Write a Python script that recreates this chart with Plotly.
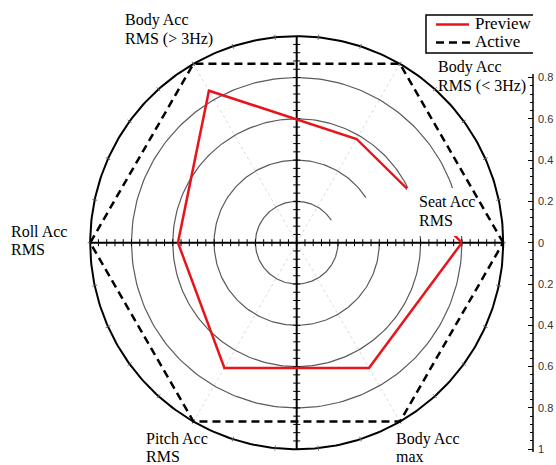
import numpy as np
import plotly.graph_objects as go

# figure geometry (pixels) of the reference
W, H = 556, 465
CX, CY, R_PX = 296.7, 242.7, 206.5
AXIS_PX = 533


def px_x(px):
    return (px - CX) / R_PX


def px_y(py):
    return (CY - py) / R_PX


# data
theta_deg = [0, 60, 120, 180, 240, 300]
preview = [0.80, 0.58, 0.85, 0.575, 0.70, 0.70]
active = [1.0, 1.0, 1.0, 1.0, 1.0, 1.0]
ring_r = [0.2, 0.4, 0.6, 0.8]
ring_start = [33, 33, 0, 0]
scale_vals = [0.8, 0.6, 0.4, 0.2, 0, -0.2, -0.4, -0.6, -0.8, -1]
scale_text = ["0.8", "0.6", "0.4", "0.2", "0", "0.2", "0.4", "0.6", "0.8", "1"]

# axis labels: (lines, left px, line centre px)
labels = [
    (["Body Acc", "RMS (> 3Hz)"], 123, [20, 39]),
    (["Body Acc", "RMS (< 3Hz)"], 436, [67, 85.5]),
    (["Seat Acc", "RMS"], 417, [201, 220]),
    (["Roll Acc", "RMS"], 9, [231, 249.5]),
    (["Pitch Acc", "RMS"], 144, [438.5, 456.5]),
    (["Body Acc", "max"], 394, [438.5, 456.5]),
]

SERIF = "Liberation Serif, Times New Roman, serif"
RED = "#e8141c"


def to_xy(r, deg, close=True):
    r = np.asarray(r, dtype=float)
    t = np.deg2rad(np.asarray(deg, dtype=float))
    x, y = r * np.cos(t), r * np.sin(t)
    if close:
        x, y = np.append(x, x[0]), np.append(y, y[0])
    return x, y


def segs(x0, y0, x1, y1):
    xs, ys = [], []
    for a, b, c, d in zip(x0, y0, x1, y1):
        xs += [a, c, None]
        ys += [b, d, None]
    return xs, ys


fig = go.Figure()
plain = dict(mode="lines", showlegend=False, hoverinfo="skip")

# faint spokes
t = np.deg2rad(theta_deg)
sx, sy = segs(np.zeros(6), np.zeros(6), np.cos(t), np.sin(t))
fig.add_trace(go.Scatter(x=sx, y=sy, line=dict(color="#dcdcdc", width=1, dash="dot"), **plain))

# rings
for r, s in zip(ring_r, ring_start):
    a = np.deg2rad(np.linspace(s, 360, 240))
    fig.add_trace(go.Scatter(x=r * np.cos(a), y=r * np.sin(a),
                             line=dict(color="#5a5a5a", width=1.2), **plain))

# outer circle + small ticks every 12 degrees
a = np.deg2rad(np.linspace(0, 360, 361))
fig.add_trace(go.Scatter(x=np.cos(a), y=np.sin(a), line=dict(color="black", width=2), **plain))
ta = np.deg2rad(np.arange(0, 360, 12))
ox, oy = segs(0.988 * np.cos(ta), 0.988 * np.sin(ta), 1.012 * np.cos(ta), 1.012 * np.sin(ta))
fig.add_trace(go.Scatter(x=ox, y=oy, line=dict(color="#666", width=1), **plain))

# cross axes with ticks
fig.add_trace(go.Scatter(x=[-1, 1, None, 0, 0], y=[0, 0, None, -1, 1],
                         line=dict(color="black", width=2), **plain))
tk = np.round(np.arange(-0.96, 0.97, 0.04), 2)
fig.add_trace(go.Scatter(x=tk, y=np.zeros_like(tk), mode="markers", showlegend=False, hoverinfo="skip",
                         marker=dict(symbol="line-ns", size=5, line=dict(color="black", width=1))))
fig.add_trace(go.Scatter(x=np.zeros_like(tk), y=tk, mode="markers", showlegend=False, hoverinfo="skip",
                         marker=dict(symbol="line-ew", size=5, line=dict(color="black", width=1))))

# series
px_, py_ = to_xy(preview, theta_deg)
fig.add_trace(go.Scatter(x=px_, y=py_, mode="lines", name="Preview",
                         line=dict(color=RED, width=2.5)))
ax_, ay_ = to_xy(active, theta_deg)
fig.add_trace(go.Scatter(x=ax_, y=ay_, mode="lines", name="Active",
                         line=dict(color="black", width=2.5, dash="8px,5px")))

shapes = [
    # white box behind the Seat Acc label
    dict(type="rect", xref="x", yref="y", x0=px_x(407), x1=px_x(470), y0=px_y(236), y1=px_y(188),
         fillcolor="white", line=dict(width=0), layer="above"),
    # right scale line
    dict(type="line", xref="paper", yref="y", x0=1, x1=1, y0=px_y(452), y1=px_y(74),
         line=dict(color="black", width=1.5)),
    # legend box and samples
    dict(type="rect", xref="x", yref="y", x0=px_x(426), x1=px_x(600), y0=px_y(53), y1=px_y(15),
         fillcolor="white", line=dict(color="black", width=1.5), layer="above"),
    dict(type="line", xref="x", yref="y", x0=px_x(436), x1=px_x(469), y0=px_y(24.5), y1=px_y(24.5),
         line=dict(color=RED, width=2.5), layer="above"),
    dict(type="line", xref="x", yref="y", x0=px_x(436), x1=px_x(470), y0=px_y(42.5), y1=px_y(42.5),
         line=dict(color="black", width=2.5, dash="8px,5px"), layer="above"),
]

annotations = []
for lines, left, ys in labels:
    for txt, yc in zip(lines, ys):
        annotations.append(dict(x=px_x(left), y=px_y(yc), xref="x", yref="y", text=txt,
                                showarrow=False, xanchor="left", yanchor="middle",
                                font=dict(family=SERIF, size=16, color="black")))
for tr, yc in zip(fig.data[-2:], [23, 41.5]):
    annotations.append(dict(x=px_x(473), y=px_y(yc), xref="x", yref="y", text=tr.name,
                            showarrow=False, xanchor="left", yanchor="middle",
                            font=dict(family=SERIF, size=17, color="black")))

minor_vals = [v for v in np.round(np.arange(-1, 0.81, 0.04), 2) if round(v / 0.2, 6) % 1 != 0]

fig.update_layout(
    width=W, height=H,
    margin=dict(l=0, r=W - AXIS_PX, t=0, b=0, autoexpand=False),
    plot_bgcolor="white", paper_bgcolor="white",
    shapes=shapes, annotations=annotations, showlegend=False,
    xaxis=dict(range=[px_x(0), px_x(AXIS_PX)], visible=False, fixedrange=True),
    yaxis=dict(range=[px_y(H), px_y(0)], side="right", showgrid=False, zeroline=False,
               showline=False, ticks="inside", ticklen=5, tickwidth=1, tickcolor="black",
               tickvals=scale_vals, ticktext=scale_text, ticklabelstandoff=4,
               tickfont=dict(family="Liberation Sans, Arial, sans-serif", size=11, color="#333"),
               minor=dict(tickvals=minor_vals, ticks="inside", ticklen=3, tickcolor="black"),
               automargin=False, fixedrange=True),
)

fig.write_html("out.html", config={"displayModeBar": False},
               post_script="document.body.style.margin='0';")
